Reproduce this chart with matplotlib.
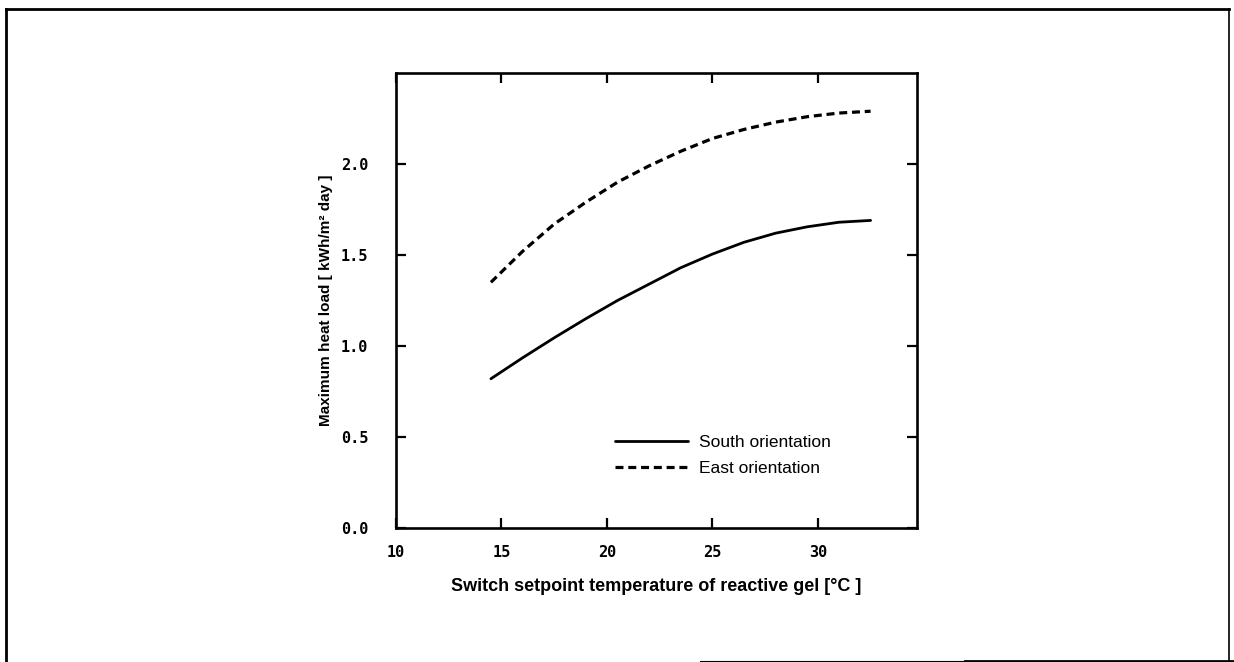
import matplotlib
matplotlib.use("Agg")
import matplotlib.pyplot as plt
from matplotlib.lines import Line2D

# Data
temps = [14.5, 16, 17.5, 19, 20.5, 22, 23.5, 25, 26.5, 28, 29.5, 31, 32.5]
south = [0.82, 0.935, 1.045, 1.15, 1.25, 1.34, 1.43, 1.505, 1.57, 1.62, 1.655, 1.68, 1.69]
east = [1.35, 1.52, 1.67, 1.79, 1.90, 1.99, 2.07, 2.14, 2.19, 2.23, 2.26, 2.28, 2.29]
xticks = [10, 15, 20, 25, 30]
yticks = [0.0, 0.5, 1.0, 1.5, 2.0]
series_labels = ["South orientation", "East orientation"]
xlabel = "Switch setpoint temperature of reactive gel [°C ]"
ylabel = "Maximum heat load [ kWh/m² day ]"

W, H = 1234, 662
fig = plt.figure(figsize=(W / 100, H / 100), dpi=100)
fig.patch.set_facecolor("white")

ax = fig.add_axes([396 / W, 1 - 528 / H, (917 - 396) / W, (528 - 73) / H])
ax.plot(temps, south, color="black", lw=2.0, solid_capstyle="round", label=series_labels[0])
ax.plot(temps, east, color="black", lw=2.3, linestyle=(0, (2.5, 1.5)), label=series_labels[1])

ax.set_xlim(10, 34.7)
ax.set_ylim(0, 2.5)
ax.set_xticks(xticks)
ax.set_yticks(yticks)
ax.set_xticklabels([str(t) for t in xticks])
ax.set_yticklabels([f"{t:.1f}" for t in yticks])
ax.tick_params(direction="in", length=7, width=1.6, top=True, right=True,
               labelsize=11, pad=12)
ax.tick_params(axis="y", pad=20)
for lab in ax.get_xticklabels() + ax.get_yticklabels():
    lab.set_fontfamily("DejaVu Sans Mono")
    lab.set_fontweight("bold")
for s in ax.spines.values():
    s.set_linewidth(1.9)

ax.set_xlabel(xlabel, fontfamily="Liberation Sans", fontweight="bold", fontsize=13, labelpad=13)
ax.set_ylabel(ylabel, fontfamily="Liberation Sans", fontweight="bold", fontsize=11, labelpad=6)

ax.legend(loc="lower left", bbox_to_anchor=(0.39, 0.08), frameon=False,
          handlelength=4.2, handletextpad=0.65, labelspacing=0.6,
          prop={"family": "Liberation Sans", "size": 12.5})

# page frame
def fl(x0, y0, x1, y1, lw):
    fig.add_artist(Line2D([x0 / W, x1 / W], [1 - y0 / H, 1 - y1 / H],
                          color="black", lw=lw, transform=fig.transFigure))

fl(6, 9, 1229, 9, 2.0)
fl(6, 9, 6, 662, 2.0)
fl(1229, 9, 1229, 662, 1.2)
fl(700, 661, 965, 661, 0.8)
fl(965, 661, 1234, 661, 2.0)

fig.savefig("out.png", dpi=100, facecolor="white")
